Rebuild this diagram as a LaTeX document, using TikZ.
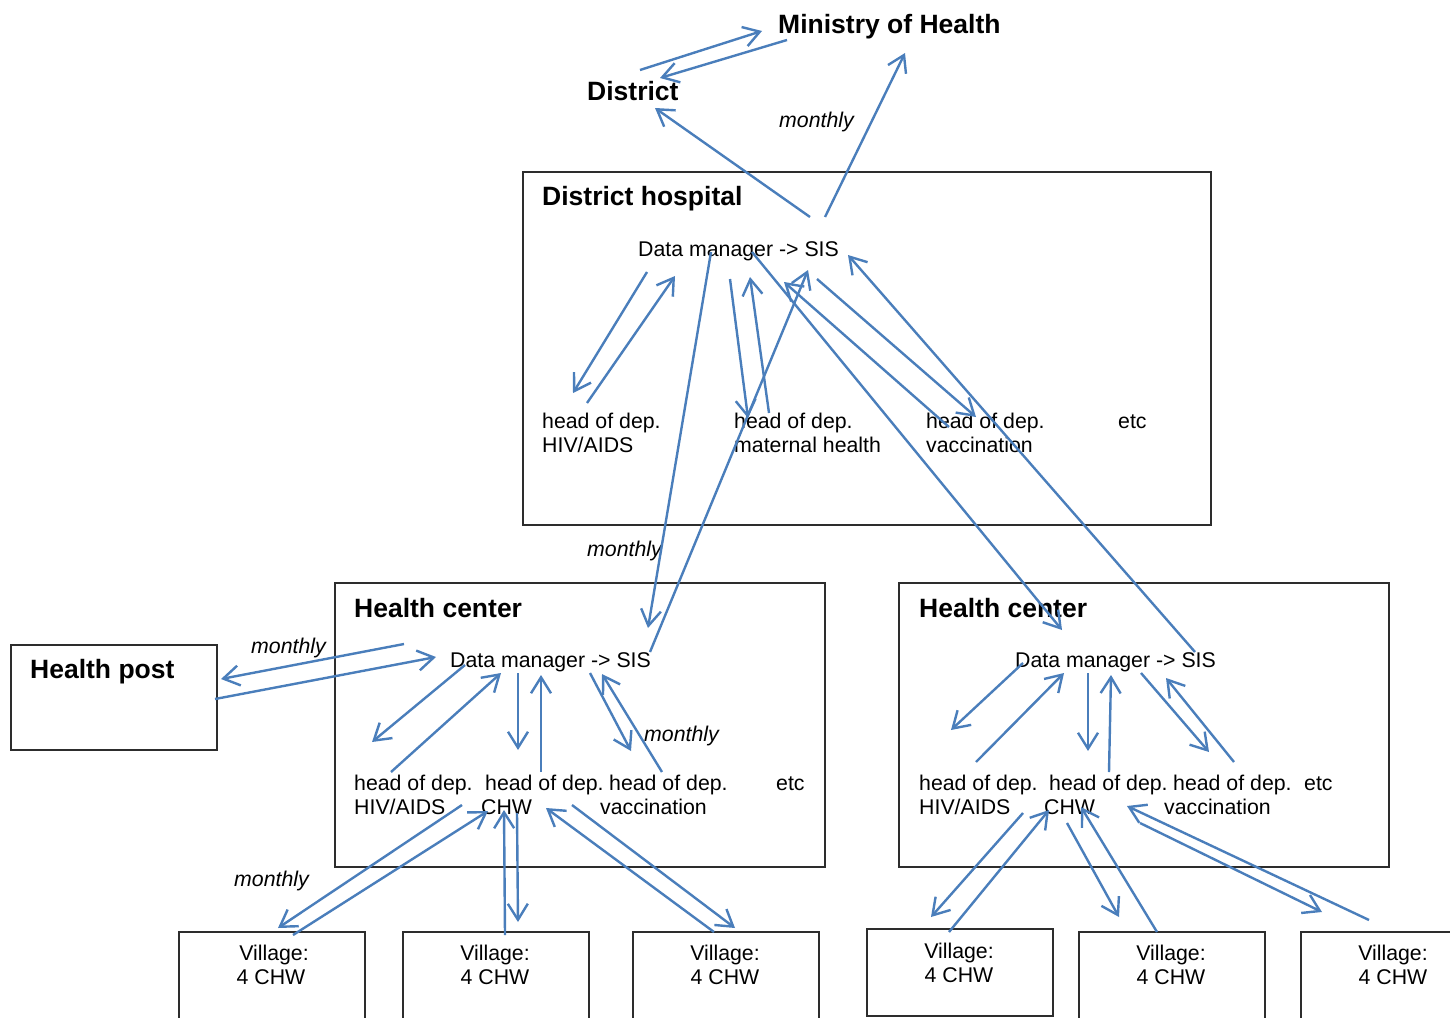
\documentclass[tikz,border=0pt]{standalone}
\usepackage{fontspec}
\setmainfont{Liberation Sans}
\usetikzlibrary{arrows.meta}
\definecolor{flowblue}{RGB}{74,126,187}
\definecolor{boxline}{RGB}{45,45,45}
\begin{document}
\begin{tikzpicture}[x=1pt,y=-1pt,
  flow/.style={draw=flowblue, line width=2.4pt, -{Straight Barb[length=16pt,width=20pt]}},
  box/.style={draw=boxline, line width=1.7pt, inner sep=0pt, anchor=north west},
  lbl/.style={inner sep=0pt, anchor=base west, font=\fontsize{21.3}{24}\selectfont},
  ctr/.style={inner sep=0pt, anchor=base, font=\fontsize{21.3}{24}\selectfont},
  ttl/.style={inner sep=0pt, anchor=base west, font=\fontsize{26.5}{30}\selectfont\bfseries},
  mth/.style={inner sep=0pt, anchor=base west, font=\fontsize{21.3}{24}\selectfont\itshape}]
\useasboundingbox (0,0) rectangle (1450,1017);
\clip (0,0) rectangle (1450,1017);

% boxes
\node[box, minimum width=688pt, minimum height=353pt] (hosp) at (522,171) {};
\node[box, minimum width=490pt, minimum height=284pt] (hcA) at (334,582) {};
\node[box, minimum width=490pt, minimum height=284pt] (hcB) at (898,582) {};
\node[box, minimum width=206pt, minimum height=105pt] (hpost) at (10,644) {};
\node[box, minimum width=186pt, minimum height=100pt] (v1) at (178,931) {};
\node[box, minimum width=186pt, minimum height=100pt] (v2) at (402,931) {};
\node[box, minimum width=186pt, minimum height=100pt] (v3) at (632,931) {};
\node[box, minimum width=186pt, minimum height=87pt] (v4) at (866,928) {};
\node[box, minimum width=186pt, minimum height=100pt] (v5) at (1078,931) {};
\node[box, minimum width=186pt, minimum height=100pt] (v6) at (1300,931) {};

% titles
\node[ttl] (moh) at (778,33) {Ministry of Health};
\node[ttl] (dist) at (587,100) {District};
\node[ttl] (hospT) at (542,205) {District hospital};
\node[ttl] (hcAT) at (354,617) {Health center};
\node[ttl] (hcBT) at (919,617) {Health center};
\node[ttl] (hpT) at (30,678) {Health post};

% hospital texts
\node[lbl] (hdm) at (638,256) {Data manager -> SIS};
\node[lbl] (h1a) at (542,428) {head of dep.};
\node[lbl] (h1b) at (542,452) {HIV/AIDS};
\node[lbl] (h2a) at (734,428) {head of dep.};
\node[lbl] (h2b) at (734,452) {maternal health};
\node[lbl] (h3a) at (926,428) {head of dep.};
\node[lbl] (h3b) at (926,452) {vaccination};
\node[lbl] (h4a) at (1118,428) {etc};

% health center A texts
\node[lbl] (adm) at (450,667) {Data manager -> SIS};
\node[lbl] (a1a) at (354,790) {head of dep.};
\node[lbl] (a1b) at (354,814) {HIV/AIDS};
\node[lbl] (a2a) at (485,790) {head of dep.};
\node[lbl] (a2b) at (481,814) {CHW};
\node[lbl] (a3a) at (609,790) {head of dep.};
\node[lbl] (a3b) at (600,814) {vaccination};
\node[lbl] (a4a) at (776,790) {etc};

% health center B texts
\node[lbl] (bdm) at (1015,667) {Data manager -> SIS};
\node[lbl] (b1a) at (919,790) {head of dep.};
\node[lbl] (b1b) at (919,814) {HIV/AIDS};
\node[lbl] (b2a) at (1049,790) {head of dep.};
\node[lbl] (b2b) at (1044,814) {CHW};
\node[lbl] (b3a) at (1173,790) {head of dep.};
\node[lbl] (b3b) at (1164,814) {vaccination};
\node[lbl] (b4a) at (1304,790) {etc};

% villages
\node[ctr] (v1a) at (274,960) {Village:};
\node[ctr] (v1b) at (271,984) {4 CHW};
\node[ctr] (v2a) at (495,960) {Village:};
\node[ctr] (v2b) at (495,984) {4 CHW};
\node[ctr] (v3a) at (725,960) {Village:};
\node[ctr] (v3b) at (725,984) {4 CHW};
\node[ctr] (v4a) at (959,958) {Village:};
\node[ctr] (v4b) at (959,982) {4 CHW};
\node[ctr] (v5a) at (1171,960) {Village:};
\node[ctr] (v5b) at (1171,984) {4 CHW};
\node[ctr] (v6a) at (1393,960) {Village:};
\node[ctr] (v6b) at (1393,984) {4 CHW};

% monthly labels
\node[mth] (m1) at (779,127) {monthly};
\node[mth] (m2) at (587,556) {monthly};
\node[mth] (m3) at (251,653) {monthly};
\node[mth] (m4) at (644,741) {monthly};
\node[mth] (m5) at (234,886) {monthly};

% arrows
\foreach \n/\xa/\ya/\xb/\yb in {
 1/640/70/762/31, 2/787/40/660/78, 3/810/217/655/108, 4/825/217/905/53,
 5/647/272/573/393, 6/587/403/675/276, 7/711/252/648/628, 8/650/652/808/270,
 9/730/279/748/418, 10/769/413/750/277, 11/752/252/1062/630, 12/949/427/784/282,
 13/817/279/976/417, 14/1195/652/848/255,
 15/404/644/221/679, 16/215/699/436/657, 17/465/665/372/742, 18/391/772/501/673,
 19/518/673/518/750, 20/541/772/541/675, 21/590/673/631/751, 22/662/772/602/674,
 23/462/805/278/928, 24/293/935/488/811, 25/517/813/518/922, 26/505/935/504/810,
 27/714/932/546/808, 28/572/805/735/928,
 29/1023/663/951/730, 30/976/762/1064/673, 31/1088/673/1088/751, 32/1109/772/1111/675,
 33/1141/673/1209/752, 34/1234/762/1166/678,
 35/1023/813/931/917, 36/949/932/1049/810, 37/1067/823/1119/917, 38/1157/932/1081/807,
 39/1369/920/1127/806, 40/1140/823/1322/912}
{
  \coordinate (s\n) at (\xa,\ya);
  \coordinate (e\n) at (\xb,\yb);
  \draw[flow] (s\n) -- (e\n);
}
\end{tikzpicture}
\end{document}
